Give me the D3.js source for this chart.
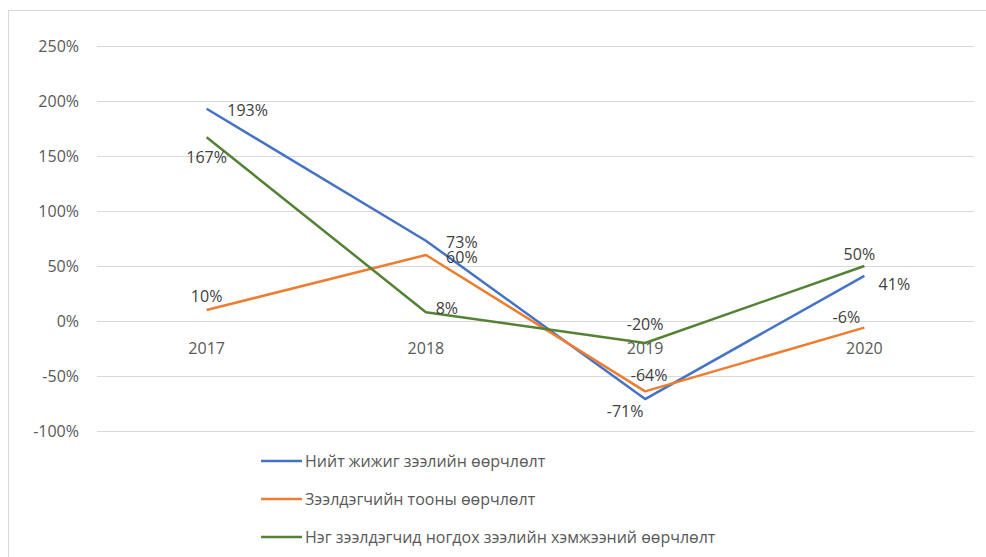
<!DOCTYPE html>
<html>
<head>
<meta charset="utf-8">
<script src="https://cdn.jsdelivr.net/npm/d3@7"></script>
<style>
  html, body { margin: 0; padding: 0; background: #fff; }
  svg { display: block; font-family: "Open Sans", "Noto Sans", sans-serif; }
</style>
</head>
<body>
<svg id="chart" width="986" height="557"></svg>
<script>
// years and series (%)
const years = ['2017', '2018', '2019', '2020'];
const totalLoan = [193, 73, -71, 41];
const borrowers = [10, 60, -64, -6];
const perBorrower = [167, 8, -20, 50];
const seriesNames = [
  'Нийт жижиг зээлийн өөрчлөлт',
  'Зээлдэгчийн тооны өөрчлөлт',
  'Нэг зээлдэгчид ногдох зээлийн хэмжээний өөрчлөлт'
];
const yTicks = [-100, -50, 0, 50, 100, 150, 200, 250];

// data label offsets from each point [dx, dy], as placed in the original
const labelOffsets = [
  [[41, 2], [36, 2], [-20, 12], [30, 8]],
  [[0, -14], [36, 2], [4, -16], [-18, -10]],
  [[0, 20], [21, -4], [0, -19], [-5, -12]]
];

const series = [
  { name: seriesNames[0], values: totalLoan,   color: '#4472C4' },
  { name: seriesNames[1], values: borrowers,   color: '#ED7D31' },
  { name: seriesNames[2], values: perBorrower, color: '#548235' }
];

const svg = d3.select('#chart');

// chart frame (continues past the bottom/right edge)
svg.append('rect')
  .attr('x', 8.5).attr('y', 10.5)
  .attr('width', 1000).attr('height', 600)
  .attr('fill', '#fff').attr('stroke', '#d9d9d9');

const x = d3.scaleBand().domain(years).range([97, 974]);
const y = d3.scaleLinear().domain([-100, 250]).range([431, 46]);
const cx = i => x(years[i]) + x.bandwidth() / 2;

// grid
svg.append('g')
  .selectAll('line')
  .data(yTicks)
  .join('line')
    .attr('x1', 97).attr('x2', 974)
    .attr('y1', d => Math.round(y(d)) + 0.5)
    .attr('y2', d => Math.round(y(d)) + 0.5)
    .attr('stroke', '#d9d9d9').attr('stroke-width', 1);

// y labels
svg.append('g')
  .selectAll('text')
  .data(yTicks)
  .join('text')
    .attr('x', 79)
    .attr('y', d => y(d))
    .attr('dy', '0.35em')
    .attr('text-anchor', 'end')
    .attr('font-size', 16)
    .attr('fill', '#595959')
    .text(d => d + '%');

// category labels sit under the 0% line
svg.append('g')
  .selectAll('text')
  .data(years)
  .join('text')
    .attr('x', d => x(d) + x.bandwidth() / 2)
    .attr('y', y(0) + 27)
    .attr('dy', '0.35em')
    .attr('text-anchor', 'middle')
    .attr('font-size', 16)
    .attr('fill', '#595959')
    .text(d => d);

const line = d3.line()
  .x((d, i) => cx(i))
  .y(d => y(d));

series.forEach(s => {
  svg.append('path')
    .datum(s.values)
    .attr('d', line)
    .attr('fill', 'none')
    .attr('stroke', s.color)
    .attr('stroke-width', 2.5)
    .attr('stroke-linejoin', 'round');
});

// data labels
series.forEach((s, k) => {
  svg.append('g')
    .selectAll('text')
    .data(s.values)
    .join('text')
      .attr('x', (d, i) => cx(i) + labelOffsets[k][i][0])
      .attr('y', (d, i) => y(d) + labelOffsets[k][i][1])
      .attr('dy', '0.35em')
      .attr('text-anchor', 'middle')
      .attr('font-size', 16)
      .attr('fill', '#404040')
      .text(d => d + '%');
});

// legend
const legend = svg.append('g')
  .selectAll('g')
  .data(series)
  .join('g')
    .attr('transform', (d, i) => `translate(261,${461 + i * 38})`);

legend.append('line')
  .attr('x1', 0).attr('x2', 41)
  .attr('stroke', d => d.color)
  .attr('stroke-width', 2.5);

legend.append('text')
  .attr('x', 44)
  .attr('dy', '0.35em')
  .attr('font-size', 16)
  .attr('fill', '#595959')
  .text(d => d.name);
</script>
</body>
</html>
